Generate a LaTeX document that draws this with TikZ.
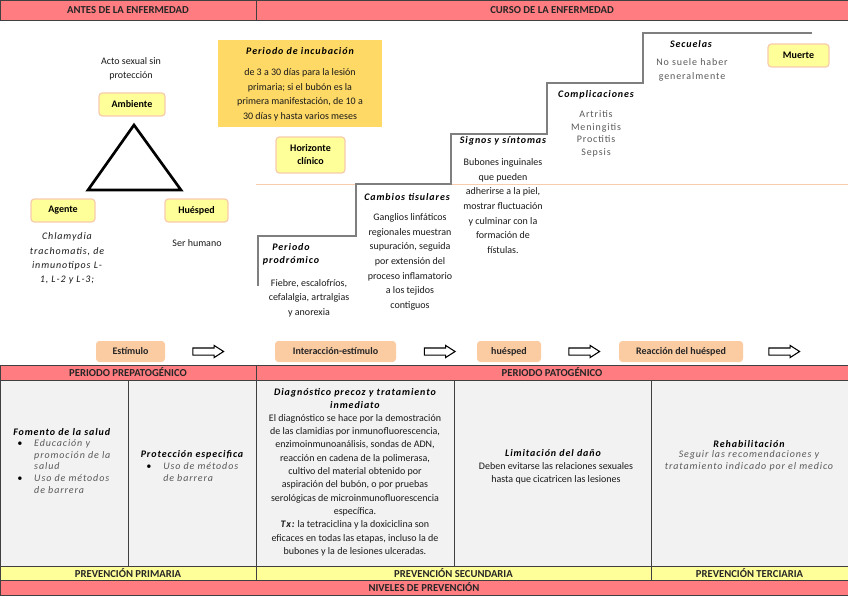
\documentclass[tikz,border=0pt]{standalone}
\usepackage{fontspec}
\setmainfont{Carlito}
\newfontfamily\spaced[LetterSpace=9]{Carlito}
\usepackage{tikz}
\usetikzlibrary{shapes,shapes.arrows}

\definecolor{salmon}{HTML}{FF7C80}
\definecolor{lightyel}{HTML}{FFFF99}
\definecolor{gold}{HTML}{FFD966}
\definecolor{peach}{HTML}{FBCBA2}
\definecolor{edgeor}{HTML}{F8CBAD}
\definecolor{cellgray}{HTML}{F2F2F2}
\definecolor{rule}{HTML}{404040}
\definecolor{stair}{HTML}{7F7F7F}
\definecolor{txtgray}{HTML}{595959}

\begin{document}
\begin{tikzpicture}[x=0.75pt,y=-0.75pt,
  band/.style={draw=rule,line width=0.6pt},
  bandtxt/.style={font=\fontsize{8}{9}\selectfont\bfseries,text=black!85,inner sep=0},
  factor/.style={draw=edgeor,fill=lightyel,rounded corners=2.5pt,line width=0.9pt,inner sep=0,font=\fontsize{7.5}{9.75}\selectfont\bfseries,align=center,minimum height=17.25pt},
  stage/.style={fill=peach,rounded corners=2.5pt,inner sep=0,minimum height=15.75pt,font=\fontsize{7.5}{9}\selectfont\bfseries,text=black!85},
  flow/.style={single arrow,draw=black,fill=white,line width=0.8pt,minimum height=23pt,inner xsep=0,inner ysep=2.25pt,single arrow head extend=1.9pt,single arrow tip angle=65},
  headit/.style={font=\spaced\fontsize{7.5}{9.75}\selectfont\bfseries\itshape,align=center,inner sep=0},
  body/.style={font=\fontsize{7.5}{11}\selectfont,align=center,inner sep=0,text=black!90},
  graybody/.style={font=\spaced\fontsize{7.5}{9.5}\selectfont,align=center,inner sep=0,text=txtgray}]

\useasboundingbox (0,0) rectangle (848,599);

% bands of the table
\foreach \xa/\xb/\t [count=\n] in {0/256/ANTES DE LA ENFERMEDAD,256/848/CURSO DE LA ENFERMEDAD}{%
  \filldraw[band,fill=salmon] (\xa,0) rectangle (\xb,20);
  \node[bandtxt] (head\n) at ({(\xa+\xb)/2},10) {\t};}
\foreach \xa/\xb/\t [count=\n] in {0/256/PERIODO PREPATOGÉNICO,256/848/PERIODO PATOGÉNICO}{%
  \filldraw[band,fill=salmon] (\xa,365) rectangle (\xb,380);
  \node[bandtxt] (periodo\n) at ({(\xa+\xb)/2},372.5) {\t};}
\foreach \xa/\xb in {0/128,128/256,256/454,454/651,651/848}{%
  \filldraw[band,fill=cellgray] (\xa,380) rectangle (\xb,566);}
\foreach \xa/\xb/\t [count=\n] in {0/256/PREVENCIÓN PRIMARIA,256/651/PREVENCIÓN SECUNDARIA,651/848/PREVENCIÓN TERCIARIA}{%
  \filldraw[band,fill=lightyel] (\xa,566) rectangle (\xb,580);
  \node[bandtxt] (prev\n) at ({(\xa+\xb)/2},573) {\t};}
\filldraw[band,fill=salmon] (0,580) rectangle (848,595);
\node[bandtxt] (niveles) at (424,587.5) {NIVELES DE PREVENCIÓN};

% triada
\node[body,font=\fontsize{7.5}{10.5}\selectfont] (acto) at (131,69) {Acto sexual sin\\protección};
\node[factor,minimum width=49.5pt] (ambiente) at (132,104.5) {Ambiente};
\draw[line width=2pt] (134,125) -- (181,190) -- (88,190) -- cycle;
\node[factor,minimum width=48pt] (agente) at (63,210.5) {Agente};
\node[factor,minimum width=47.25pt] (huesped) at (196.5,210.5) {Huésped};
\node[body,font=\spaced\fontsize{7.5}{10.7}\selectfont\itshape] (agentetxt) at (67,258.5) {Chlamydia\\trachomatis, de\\inmunotipos L-\\1, L-2 y L-3;};
\node[body] (huespedtxt) at (197,243) {Ser humano};

% curso
\node[fill=gold,minimum width=123pt,minimum height=65.25pt,inner sep=0] (incub) at (300,83.5) {};
\node[headit] (incubtit) at (300,51) {Periodo de incubación};
\node[body] (incubtxt) at (300,95) {de 3 a 30 días para la lesión\\primaria; si el bubón es la\\primera manifestación, de 10 a\\30 días y hasta varios meses};
\node[factor,minimum width=51.75pt,minimum height=27pt] (horizonte) at (310.5,155) {Horizonte\\clínico};
\draw[edgeor,line width=0.6pt] (256,184) -- (848,184);
\draw[stair,line width=1.1pt] (258,286) -- (258,236) -- (356,236) -- (356,184) -- (451,184) -- (451,134)
  -- (547,134) -- (547,83) -- (643,83) -- (643,33) -- (812,33);

\node[headit] (prodromico) at (291,254) {Periodo\\prodrómico};
\node[body] (prodtxt) at (309,298) {Fiebre, escalofríos,\\cefalalgia, artralgias\\y anorexia};
\node[headit] (cambios) at (407,197) {Cambios tisulares};
\node[body] (cambiostxt) at (410,262) {Ganglios linfáticos\\regionales muestran\\supuración, seguida\\por extensión del\\proceso inflamatorio\\a los tejidos\\contiguos};
\node[headit] (signos) at (503,141) {Signos y síntomas};
\node[body] (signostxt) at (503,206) {Bubones inguinales\\que pueden\\adherirse a la piel,\\mostrar fluctuación\\y culminar con la\\formación de\\fístulas.};
\node[headit] (complic) at (596,95) {Complicaciones};
\node[graybody] (complictxt) at (596,134) {Artritis\\Meningitis\\Proctitis\\Sepsis};
\node[headit] (secuelas) at (691,44) {Secuelas};
\node[graybody,font=\spaced\fontsize{7.5}{10}\selectfont] (secuelastxt) at (692,70) {No suele haber\\generalmente};
\node[factor,minimum width=45.75pt] (muerte) at (798.5,55.5) {Muerte};

\foreach \cx/\w/\ax/\t [count=\n] in {130.5/69/205.5/Estímulo,335.5/121/437/Interacción-estímulo,509/64/581.5/huésped,681/124/781.5/Reacción del huésped}{%
  \node[stage,minimum width=\w*0.75pt] (stage\n) at (\cx,351.5) {\t};
  \node[flow] (flow\n) at (\ax,351.5) {};}

% niveles de prevencion
\node[headit,anchor=west] (fomento) at (13,432) {Fomento de la salud};
\node[graybody,anchor=north west,align=left,font=\spaced\fontsize{7.5}{8.8}\selectfont\itshape] (fomentolist) at (17,438)
  {\begin{tabular}{@{}l@{\hspace{9pt}}l@{}}\textcolor{black}{\textbullet} & Educación y\\ & promoción de la\\ & salud\\ \textcolor{black}{\textbullet} & Uso de métodos\\ & de barrera\end{tabular}};
\node[headit] (proteccion) at (192,455) {Protección especifica};
\node[graybody,anchor=north west,align=left,font=\spaced\fontsize{7.5}{8.8}\selectfont\itshape] (protlist) at (146,461)
  {\begin{tabular}{@{}l@{\hspace{9pt}}l@{}}\textcolor{black}{\textbullet} & Uso de métodos\\ & de barrera\end{tabular}};
\node[headit] (diagnostico) at (355,398.5) {Diagnóstico precoz y tratamiento\\inmediato};
\node[body,font=\fontsize{7.5}{10}\selectfont] (diagtxt) at (355,485) {El diagnóstico se hace por la demostración\\de las clamidias por inmunofluorescencia,\\enzimoinmunoanálisis, sondas de ADN,\\reacción en cadena de la polimerasa,\\cultivo del material obtenido por\\aspiración del bubón, o por pruebas\\serológicas de microinmunofluorescencia\\específica.\\{\spaced\bfseries\itshape Tx:} la tetraciclina y la doxiciclina son\\eficaces en todas las etapas, incluso la de\\bubones y la de lesiones ulceradas.};
\node[headit] (limitacion) at (553,453) {Limitación del daño};
\node[body,font=\fontsize{7.5}{9.75}\selectfont] (limtxt) at (556,473.5) {Deben evitarse las relaciones sexuales\\hasta que cicatricen las lesiones};
\node[headit] (rehab) at (749,444) {Rehabilitación};
\node[graybody,font=\spaced\fontsize{7.5}{9}\selectfont\itshape] (rehabtxt) at (749,461) {Seguir las recomendaciones y\\tratamiento indicado por el medico};
\end{tikzpicture}
\end{document}
